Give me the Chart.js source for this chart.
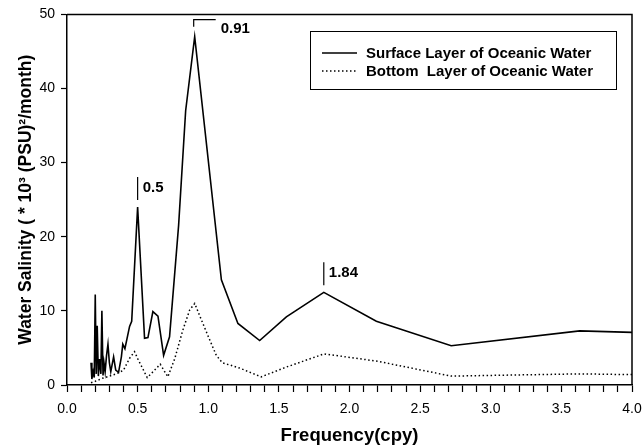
<!DOCTYPE html>
<html>
<head>
<meta charset="utf-8">
<script src="https://cdn.jsdelivr.net/npm/chart.js@4.4.1/dist/chart.umd.min.js"></script>
<style>
  html, body { margin: 0; padding: 0; background: #fff; }
  #wrap { width: 643px; height: 447px; }
</style>
</head>
<body>
<div id="wrap"><canvas id="myChart" width="643" height="447"></canvas></div>
<script>
// values
const surfaceFreq = [0.170, 0.176, 0.185, 0.193, 0.200, 0.207, 0.214, 0.222, 0.230, 0.240, 0.247, 0.255, 0.262, 0.270, 0.280, 0.290, 0.300, 0.310, 0.330, 0.345, 0.365, 0.385, 0.395, 0.410, 0.443, 0.458, 0.500, 0.549, 0.573, 0.608, 0.644, 0.684, 0.726, 0.790, 0.840, 0.904, 1.093, 1.210, 1.364, 1.553, 1.818, 2.190, 2.720, 3.630, 4.000];
const surfaceValue = [3.0, 0.8, 1.8, 1.0, 12.2, 1.5, 8.0, 1.2, 3.5, 1.5, 10.0, 1.3, 3.0, 1.8, 4.0, 5.5, 3.0, 1.8, 3.8, 2.0, 1.7, 3.8, 5.5, 4.9, 7.9, 8.6, 24.0, 6.3, 6.4, 9.9, 9.3, 4.0, 6.5, 21.5, 37.0, 47.0, 14.2, 8.3, 6.0, 9.2, 12.5, 8.6, 5.3, 7.3, 7.1];

const bottomFreq = [0.170, 0.200, 0.250, 0.300, 0.350, 0.400, 0.443, 0.478, 0.502, 0.568, 0.610, 0.660, 0.714, 0.762, 0.820, 0.868, 0.904, 0.962, 1.010, 1.057, 1.100, 1.220, 1.375, 1.550, 1.820, 2.200, 2.720, 3.630, 4.000];
const bottomValue = [0.3, 0.5, 0.9, 1.2, 1.5, 2.0, 3.6, 4.5, 3.5, 1.0, 1.8, 2.8, 1.1, 3.5, 7.4, 10.1, 11.0, 8.3, 6.1, 4.0, 3.0, 2.3, 1.1, 2.4, 4.2, 3.2, 1.2, 1.5, 1.4];

const seriesNames = ['Surface Layer of Oceanic Water', 'Bottom  Layer of Oceanic Water'];

const xTickValues = [0, 0.5, 1.0, 1.5, 2.0, 2.5, 3.0, 3.5, 4.0];
const xTickLabels = ['0.0', '0.5', '1.0', '1.5', '2.0', '2.5', '3.0', '3.5', '4.0'];
const yTickValues = [0, 10, 20, 30, 40, 50];
const yTickLabels = ['0', '10', '20', '30', '40', '50'];

const peakFreq = [0.5, 0.91, 1.84];
const peakLabels = ['0.5', '0.91', '1.84'];

const FONT = "'Liberation Sans', Arial, sans-serif";

function toPoints(xs, ys) {
    return xs.map((x, i) => ({ x: x, y: ys[i] }));
}

// top and right border of the plot box
const frame = {
    id: 'frame',
    afterDraw(chart) {
        const { ctx, chartArea: a } = chart;
        ctx.save();
        ctx.strokeStyle = '#000';
        ctx.lineWidth = 1.5;
        ctx.beginPath();
        ctx.moveTo(a.left, a.top);
        ctx.lineTo(a.right, a.top);
        ctx.lineTo(a.right, a.bottom);
        ctx.stroke();
        ctx.restore();
    }
};

// the small marks and numbers over the peaks
const peakMarks = {
    id: 'peakMarks',
    afterDatasetsDraw(chart) {
        const { ctx } = chart;
        const xs = chart.scales.x, ys = chart.scales.y;
        ctx.save();
        ctx.strokeStyle = '#000';
        ctx.fillStyle = '#000';
        ctx.lineWidth = 1.2;
        ctx.font = 'bold 15px ' + FONT;
        ctx.textBaseline = 'middle';
        peakFreq.forEach((f, k) => {
            // nearest surface point to the labelled frequency
            let best = 0;
            surfaceFreq.forEach((s, i) => {
                if (Math.abs(s - f) < Math.abs(surfaceFreq[best] - f)) best = i;
            });
            const px = xs.getPixelForValue(surfaceFreq[best]);
            const py = ys.getPixelForValue(surfaceValue[best]);
            ctx.beginPath();
            if (peakLabels[k] === '0.91') {
                ctx.moveTo(px - 1, py - 10);
                ctx.lineTo(px - 1, py - 17);
                ctx.lineTo(px + 21, py - 17);
                ctx.stroke();
                ctx.fillText(peakLabels[k], px + 26, py - 8);
            } else {
                ctx.moveTo(px, py - 7);
                ctx.lineTo(px, py - 30);
                ctx.stroke();
                ctx.fillText(peakLabels[k], px + 5, py - 19);
            }
        });
        ctx.restore();
    }
};

// boxed legend with line samples
const boxLegend = {
    id: 'boxLegend',
    afterDraw(chart) {
        const { ctx } = chart;
        const box = { left: 310.5, top: 31.5, right: 616.5, bottom: 89.5 };
        ctx.save();
        ctx.strokeStyle = '#000';
        ctx.lineWidth = 1;
        ctx.strokeRect(box.left, box.top, box.right - box.left, box.bottom - box.top);
        ctx.font = 'bold 15px ' + FONT;
        ctx.textBaseline = 'middle';
        ctx.fillStyle = '#000';
        chart.data.datasets.forEach((ds, i) => {
            const y = 53 + i * 18;
            ctx.beginPath();
            ctx.lineWidth = ds.borderWidth;
            ctx.setLineDash(ds.borderDash || []);
            ctx.moveTo(322, y);
            ctx.lineTo(357, y);
            ctx.stroke();
            ctx.setLineDash([]);
            ctx.fillText(ds.label, 366, y + 1);
        });
        ctx.restore();
    }
};

const ctx = document.getElementById('myChart').getContext('2d');
new Chart(ctx, {
    type: 'line',
    data: {
        datasets: [{
            label: seriesNames[0],
            data: toPoints(surfaceFreq, surfaceValue),
            borderColor: '#000',
            borderWidth: 1.6,
            pointRadius: 0,
            tension: 0,
            fill: false
        }, {
            label: seriesNames[1],
            data: toPoints(bottomFreq, bottomValue),
            borderColor: '#000',
            borderWidth: 1.5,
            borderDash: [1.5, 2.5],
            pointRadius: 0,
            tension: 0,
            fill: false
        }]
    },
    options: {
        responsive: false,
        animation: false,
        devicePixelRatio: 1,
        layout: { padding: { top: 14, right: 11, left: 0, bottom: 0 } },
        plugins: {
            legend: { display: false },
            tooltip: { enabled: false }
        },
        scales: {
            x: {
                type: 'linear',
                min: 0,
                max: 4,
                afterFit(scale) {
                    scale.height = 62;
                    scale.paddingLeft = 0;
                    scale.paddingRight = 0;
                },
                border: { display: true, color: '#000', width: 1.5 },
                grid: { display: true, drawOnChartArea: false, drawTicks: true, tickLength: 7, color: '#000', tickWidth: 1.2 },
                ticks: {
                    stepSize: 0.1,
                    autoSkip: false,
                    maxRotation: 0,
                    padding: 9,
                    color: '#000',
                    font: { family: FONT, size: 14 },
                    callback: function (v) {
                        const i = xTickValues.findIndex(t => Math.abs(t - v) < 1e-6);
                        return i >= 0 ? xTickLabels[i] : '';
                    }
                },
                title: {
                    display: true,
                    text: 'Frequency(cpy)',
                    color: '#000',
                    font: { family: FONT, size: 18.5, weight: 'bold' },
                    padding: { top: 0, bottom: 0 }
                }
            },
            y: {
                min: 0,
                max: 50,
                afterFit(scale) { scale.width = 67; },
                border: { display: true, color: '#000', width: 1.5 },
                grid: { display: true, drawOnChartArea: false, drawTicks: true, tickLength: 6, color: '#000', tickWidth: 1.2 },
                ticks: {
                    stepSize: 10,
                    padding: 6,
                    color: '#000',
                    font: { family: FONT, size: 14 },
                    callback: function (v) {
                        const i = yTickValues.indexOf(v);
                        return i >= 0 ? yTickLabels[i] : '';
                    }
                },
                title: {
                    display: true,
                    text: 'Water Salinity ( * 10³ (PSU)²/month)',
                    color: '#000',
                    font: { family: FONT, size: 17.5, weight: 'bold' },
                    padding: { top: 16, bottom: 0 }
                }
            }
        }
    },
    plugins: [frame, peakMarks, boxLegend]
});
</script>
</body>
</html>
